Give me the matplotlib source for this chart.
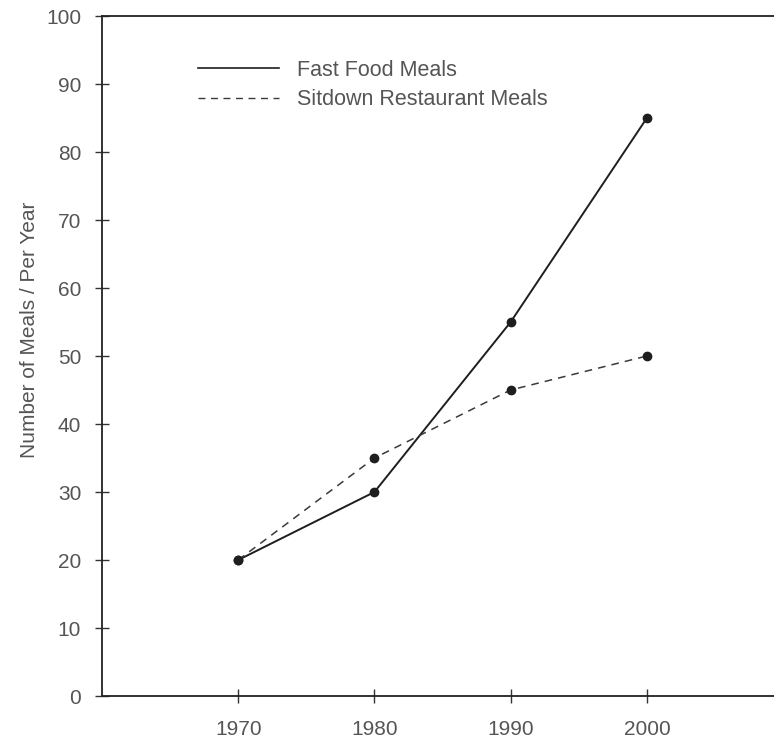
import matplotlib
matplotlib.use("Agg")
import matplotlib.pyplot as plt
from matplotlib.lines import Line2D

plt.rcParams['font.family'] = ['Liberation Sans', 'DejaVu Sans']

years = [1970, 1980, 1990, 2000]
fast_food = [20, 30, 55, 85]
sitdown = [20, 35, 45, 50]
series_names = ["Fast Food Meals", "Sitdown Restaurant Meals"]
y_ticks = list(range(0, 101, 10))

W, H = 774, 739
fig = plt.figure(figsize=(W / 100, H / 100), dpi=100)
ax = fig.add_axes([102 / W, 1 - 696 / H, 1 - 102 / W + 0.01, (696 - 16) / H])

line_col = "#1e1e1e"
text_col = "#555555"

ax.plot(years, fast_food, color=line_col, lw=1.4, marker="o", ms=6)
ax.plot(years, sitdown, color="#3a3a3a", lw=1.1, ls=(0, (5, 4)), marker="o", ms=6,
        markerfacecolor=line_col, markeredgecolor=line_col)

ax.set_xlim(1960, 2009.9)
ax.set_ylim(0, 100)
ax.set_xticks(years)
ax.set_yticks(y_ticks)
ax.tick_params(axis="both", direction="inout", length=10, width=1, color="#333333",
               labelsize=15, labelcolor=text_col)
ax.tick_params(axis="x", pad=12)
ax.tick_params(axis="y", pad=10)
for s in ["left", "bottom", "top"]:
    ax.spines[s].set_linewidth(1.3)
    ax.spines[s].set_color("#222222")
ax.spines["right"].set_visible(False)

fig.text(30 / W, 1 - 330 / H, "Number of Meals / Per Year", rotation=90,
         ha="center", va="center", fontsize=15, color=text_col)

handles = [Line2D([], [], color=line_col, lw=1.2),
           Line2D([], [], color="#3a3a3a", lw=1.0, ls=(0, (5, 4)))]
ax.legend(handles, series_names, loc="upper left",
          bbox_to_anchor=(198 / W, 1 - 60 / H), bbox_transform=fig.transFigure,
          frameon=False, fontsize=15.5, handlelength=3.75, handletextpad=0.85,
          labelspacing=0.38, borderpad=0, borderaxespad=0, labelcolor=text_col)

fig.savefig("out.png", dpi=100)
